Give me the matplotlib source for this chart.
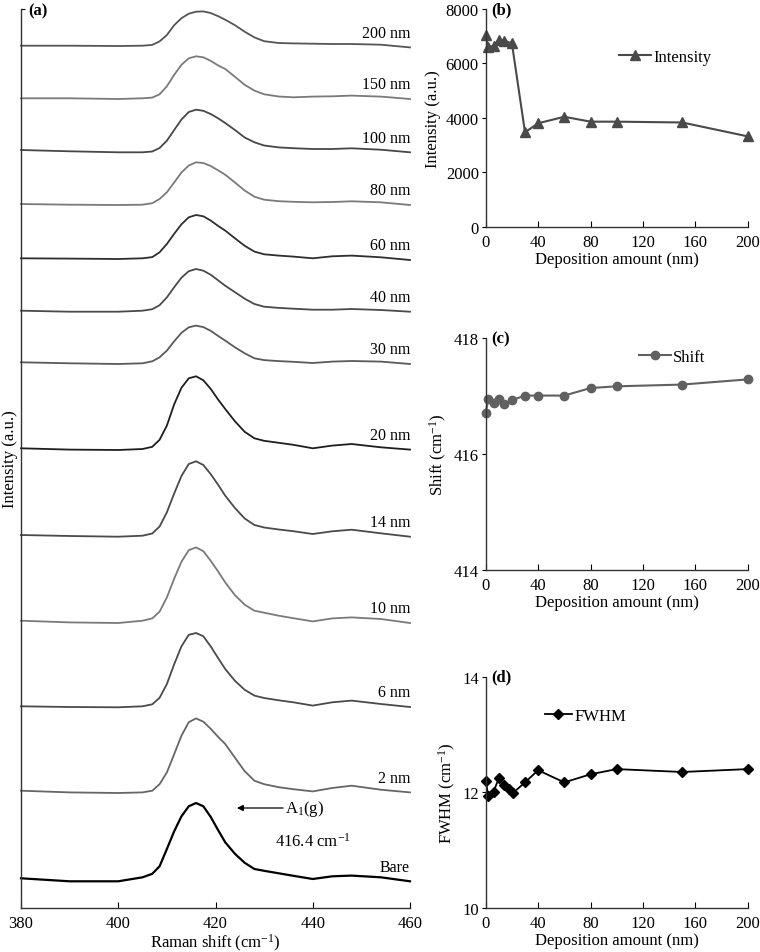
import matplotlib

matplotlib.use("Agg")
import matplotlib.pyplot as plt

plt.rcParams["font.family"] = ["Liberation Serif", "DejaVu Serif"]
plt.rcParams["mathtext.fontset"] = "custom"
plt.rcParams["mathtext.rm"] = "Liberation Serif"
plt.rcParams["mathtext.it"] = "Liberation Serif:italic"
plt.rcParams["font.size"] = 11.5

# ---- panel (a): Raman spectra, stacked ----
raman_shift = [380, 390, 400, 405, 407, 408.5, 410, 411.5, 413, 414.5, 416, 417.5, 419,
               420.5, 422, 424, 426, 428, 430, 433, 436, 440, 444, 448, 454, 460]

spectrum_labels = ["200 nm", "150 nm", "100 nm", "80 nm", "60 nm", "40 nm",
                   "30 nm", "20 nm", "14 nm", "10 nm", "6 nm", "2 nm", "Bare"]
spectrum_offsets = [862.3, 809.7, 758.0, 704.0, 649.7, 597.3,
                    545.7, 459.7, 373.0, 287.3, 201.7, 117.3, 29.7]
spectrum_colors = ["#555555", "#7a7a7a", "#474747", "#7a7a7a", "#2e2e2e", "#4a4a4a",
                   "#5a5a5a", "#1e1e1e", "#4a4a4a", "#7a7a7a", "#4a4a4a", "#666666", "#000000"]

int_200 = [0, 0, -0.3, 0, 0.8, 4.3, 10.7, 20.5, 27.5, 32, 34, 34.3, 32.7, 29.6, 26, 20.5, 14, 8.3, 4.5, 2.7, 2.3, 2, 1.7, 1.7, 1, -1.7]
int_150 = [0, 0, -0.7, 0, 0.7, 4, 12, 23.5, 33.5, 40, 42, 41, 37.5, 33, 29.3, 21.5, 13.5, 7.7, 4, 1.8, 1, 1.7, 2, 2.7, 1.7, -0.7]
int_100 = [0, -1.3, -2.3, -2.3, -1.5, 2, 9.3, 20, 30.5, 38, 40.3, 39.2, 36, 31.8, 27, 20, 12.5, 7.7, 4.5, 2.6, 1.8, 1, 1, 1.7, 0.3, -2.3]
int_80 = [0, -0.7, -1, -0.7, 0.8, 5, 11.7, 21.5, 31.5, 38.5, 41.7, 41, 38, 33.8, 29.3, 21.5, 13.5, 7.3, 4.3, 2.8, 2.2, 1.7, 2, 2.7, 1.7, -1]
int_60 = [0, -0.3, -0.7, 0, 1.2, 6, 14.3, 24.5, 34, 41, 43.3, 42, 37.8, 32.5, 27.7, 20, 12.5, 6.7, 4, 2.7, 1.7, 0, 2, 2.7, 1, -1.7]
int_40 = [0, -1, -1, 0, 1.5, 5.5, 13.3, 23.5, 33, 39.5, 41.7, 40, 36, 30.5, 25, 18.5, 12, 6.7, 4, 2.8, 2, 1, 1, 1.7, 0.7, -1]
int_30 = [0, -1, -1.7, -1, 1, 5, 11.7, 21, 29.5, 35, 36.7, 35.2, 31.5, 26.5, 21.7, 15, 9, 4, 2.2, 1.2, 0.5, -0.7, 0.7, 1.3, 0.7, -1.7]
int_20 = [0, -1.3, -1.7, -0.7, 1.5, 8.5, 22.7, 44, 60.5, 70, 72, 68, 59.5, 49, 39.3, 27, 16.5, 10, 7.5, 5.5, 3.5, 0, 2.7, 4.3, 1, -1.3]
int_14 = [0, -1, -1.7, -0.7, 1.5, 8.5, 22.7, 41.5, 59, 71, 73.7, 70, 61, 50.5, 39.3, 27, 16.5, 10, 7.5, 5.5, 3.8, 1, 3.7, 5.3, 1.7, -1.7]
int_10 = [0, -1.7, -2.3, 0, 2.3, 9, 23.3, 42, 59, 70.5, 73.3, 69.5, 60, 49.5, 38.3, 25.5, 16, 10, 8, 5, 2.5, -0.7, 2.3, 3.3, 1.7, -2.3]
int_6 = [0, -0.7, -1, 0, 2, 8.5, 22.3, 42, 60, 71.5, 73.3, 70, 60, 48.5, 37.3, 25.5, 16.5, 10.7, 8.3, 6, 4, 0.7, 4, 5.7, 2.3, -0.7]
int_2 = [0, -1.7, -2.3, -1.7, 0, 6.5, 18.3, 36.5, 55, 68.5, 72.3, 69, 62, 54, 46.7, 33, 19.5, 10, 6.5, 3.5, 1.5, -0.7, 2.7, 5, 1, -1.7]
int_bare = [0, -3, -3, 1, 4.5, 12, 29.3, 47, 62, 72, 75.3, 72, 61.5, 48.5, 36, 24.5, 15.5, 9.3, 7.5, 5, 2.5, -0.7, 2, 2.7, 1, -3]

spectra = [int_200, int_150, int_100, int_80, int_60, int_40, int_30,
           int_20, int_14, int_10, int_6, int_2, int_bare]

# ---- panels (b)-(d) ----
deposition = [0, 2, 6, 10, 14, 20, 30, 40, 60, 80, 100, 150, 200]
intensity = [7040, 6590, 6650, 6870, 6840, 6740, 3470, 3800, 4040, 3860, 3860, 3830, 3320]
shift = [416.71, 416.95, 416.88, 416.95, 416.86, 416.93, 417.01, 417.01, 417.01,
         417.14, 417.17, 417.20, 417.29]
deposition_fwhm = [0, 2, 6, 10, 14, 18, 21, 30, 40, 60, 80, 100, 150, 200]
fwhm = [12.20, 11.93, 12.01, 12.24, 12.13, 12.05, 11.99, 12.17, 12.38, 12.17,
        12.31, 12.40, 12.35, 12.40]

W, H = 760, 953
fig = plt.figure(figsize=(W / 100, H / 100), dpi=100)


def frac(left, top, right, bottom):
    return [left / W, 1 - bottom / H, (right - left) / W, (bottom - top) / H]


def style_axes(ax):
    for side in ("top", "right"):
        ax.spines[side].set_visible(False)
    for side in ("left", "bottom"):
        ax.spines[side].set_linewidth(1.0)
        ax.spines[side].set_color("#333333")
    ax.tick_params(axis="x", direction="in", length=4, width=0.8, pad=5, labelsize=12)
    ax.tick_params(axis="y", direction="out", length=3, width=0.8, pad=2, labelsize=12)


# (a)
ax_a = fig.add_axes(frac(21, 10, 410, 909))
for label, offset, color, values in zip(spectrum_labels, spectrum_offsets, spectrum_colors, spectra):
    ys = [offset + v for v in values]
    ax_a.plot(raman_shift, ys, color=color, lw=1.3 if label != "Bare" else 1.6,
              solid_joinstyle="round")
    ax_a.text(460, ys[-1] + 6.5, label, ha="right", va="bottom", fontsize=11.5)
ax_a.set_xlim(380, 460)
ax_a.set_ylim(0, 899)
ax_a.set_xticks([380, 400, 420, 440, 460])
ax_a.set_yticks([899])
ax_a.set_yticklabels([])
style_axes(ax_a)
ax_a.tick_params(axis="y", direction="in", length=3)
ax_a.set_xlabel("Raman shift (cm$^{-1}$)", fontsize=12, labelpad=1)
fig.text(10 / W, 1 - 459 / H, "Intensity (a.u.)", rotation=90, ha="center", va="center",
         fontsize=12)
ax_a.text(0.018, 0.998, "(a)", transform=ax_a.transAxes, fontsize=12,
          fontweight="bold", ha="left", va="center")
ax_a.annotate("", xy=(424.4, 100), xytext=(433.9, 100),
              arrowprops=dict(arrowstyle="-|>", color="black", lw=0.9,
                              mutation_scale=9, shrinkA=0, shrinkB=0))
ax_a.text(434.2, 100, "A$_1$(g)", ha="left", va="center", fontsize=12)
ax_a.text(440, 67, "416.4 cm$^{-1}$", ha="center", va="center", fontsize=12)

# (b)
ax_b = fig.add_axes(frac(485.7, 10, 747.7, 227.7))
ax_b.plot(deposition, intensity, color="#4a4a4a", lw=1.5, marker="^", ms=6.5, label="Intensity")
ax_b.set_xlim(0, 200)
ax_b.set_ylim(0, 8000)
ax_b.set_xticks([0, 40, 80, 120, 160, 200])
ax_b.set_yticks([0, 2000, 4000, 6000, 8000])
style_axes(ax_b)
ax_b.set_xlabel("Deposition amount (nm)", fontsize=12, labelpad=1)
ax_b.set_ylabel("Intensity (a.u.)", fontsize=12, labelpad=3)
ax_b.legend(frameon=False, loc="center left", bbox_to_anchor=(0.452, 0.78),
            handlelength=1.9, handletextpad=0.15, fontsize=12)
ax_b.text(0.02, 1.0, "(b)", transform=ax_b.transAxes, fontsize=12,
          fontweight="bold", ha="left", va="center")

# (c)
ax_c = fig.add_axes(frac(485.7, 339.3, 747.7, 570.7))
ax_c.plot(deposition, shift, color="#606060", lw=1.5, marker="o", ms=6, label="Shift")
ax_c.set_xlim(0, 200)
ax_c.set_ylim(414, 418)
ax_c.set_xticks([0, 40, 80, 120, 160, 200])
ax_c.set_yticks([414, 416, 418])
style_axes(ax_c)
ax_c.set_xlabel("Deposition amount (nm)", fontsize=12, labelpad=1)
ax_c.set_ylabel("Shift (cm$^{-1}$)", fontsize=12, labelpad=3)
ax_c.legend(frameon=False, loc="center left", bbox_to_anchor=(0.528, 0.92),
            handlelength=1.9, handletextpad=0.15, fontsize=12)
ax_c.text(0.02, 1.0, "(c)", transform=ax_c.transAxes, fontsize=12,
          fontweight="bold", ha="left", va="center")

# (d)
ax_d = fig.add_axes(frac(485.7, 677.7, 747.7, 908.7))
ax_d.plot(deposition_fwhm, fwhm, color="black", lw=1.3, marker="D", ms=5.5, label="FWHM")
ax_d.set_xlim(0, 200)
ax_d.set_ylim(10, 14)
ax_d.set_xticks([0, 40, 80, 120, 160, 200])
ax_d.set_yticks([10, 12, 14])
style_axes(ax_d)
ax_d.set_xlabel("Deposition amount (nm)", fontsize=12, labelpad=1)
ax_d.set_ylabel("FWHM (cm$^{-1}$)", fontsize=12, labelpad=3)
ax_d.legend(frameon=False, loc="center left", bbox_to_anchor=(0.169, 0.83),
            handlelength=1.6, handletextpad=0.15, fontsize=12)
ax_d.text(0.02, 1.0, "(d)", transform=ax_d.transAxes, fontsize=12,
          fontweight="bold", ha="left", va="center")

for ax in (ax_a, ax_b, ax_c, ax_d):
    for line in ax.lines:
        line.set_clip_on(False)

fig.savefig("out.png", dpi=100)
